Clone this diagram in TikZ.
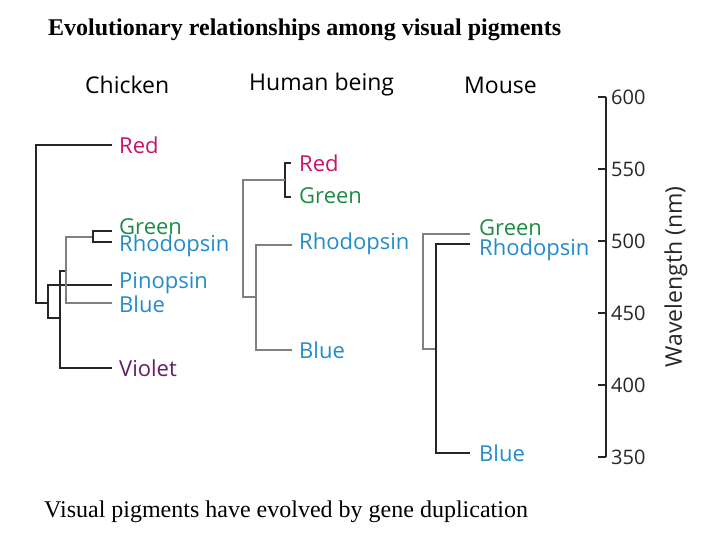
\documentclass[tikz,border=0pt]{standalone}
\usepackage{fontspec}
\setmainfont{Liberation Serif}
\newfontfamily\osans{Open Sans}
\definecolor{cred}{RGB}{200,20,105}
\definecolor{cgreen}{RGB}{30,140,70}
\definecolor{cblue}{RGB}{35,140,200}
\definecolor{cviolet}{RGB}{100,30,100}
\tikzset{lbl/.style={anchor=west,inner sep=0pt,font=\osans\fontsize{22}{22}\selectfont},
 hdr/.style={anchor=west,inner sep=0pt,font=\osans\fontsize{23}{23}\selectfont},
 tr/.style={draw=black!85,line width=1.2pt},
 trg/.style={draw=black!50,line width=1.2pt}}
\begin{document}
\begin{tikzpicture}[x=1pt,y=-1pt]
\useasboundingbox (0,0) rectangle (720,540);
\node[font=\bfseries\fontsize{24}{24}\selectfont,anchor=west,inner sep=0pt] (title) at (48,30) {Evolutionary relationships among visual pigments};
\node[font=\fontsize{24}{24}\selectfont,anchor=west,inner sep=0pt] (cap) at (44,512) {Visual pigments have evolved by gene duplication};
\node[hdr] (h1) at (85,85) {Chicken};
\node[hdr] (h2) at (249,85) {Human being};
\node[hdr] (h3) at (464,85) {Mouse};
% chicken
\node[lbl,text=cred] (cR) at (119,145) {Red};
\node[lbl,text=cgreen] (cG) at (119,227) {Green};
\node[lbl,text=cblue] (cRh) at (119,246) {Rhodopsin};
\node[lbl,text=cblue] (cP) at (119,283) {Pinopsin};
\node[lbl,text=cblue] (cB) at (119,304) {Blue};
\node[lbl,text=cviolet] (cV) at (119,368) {Violet};
\draw[tr] (112,145) -- (36,145) -- (36,303) -- (48,303);
\draw[tr] (112,285) -- (48,285) -- (48,318) -- (60,318);
\draw[tr] (112,368) -- (60,368) -- (60,271) -- (66,271);
\draw[trg] (112,303) -- (66,303) -- (66,237) -- (93,237);
\draw[tr] (112,231) -- (93,231) -- (93,242) -- (112,242);
% human
\node[lbl,text=cred] (hR) at (299,163) {Red};
\node[lbl,text=cgreen] (hG) at (299,196) {Green};
\node[lbl,text=cblue] (hRh) at (299,244) {Rhodopsin};
\node[lbl,text=cblue] (hB) at (299,350) {Blue};
\draw[tr] (291,163) -- (285,163) -- (285,197) -- (291,197);
\draw[trg] (285,180) -- (243,180) -- (243,297) -- (256,297);
\draw[trg] (292,245) -- (256,245) -- (256,350) -- (292,350);
% mouse
\node[lbl,text=cgreen] (mG) at (479,228) {Green};
\node[lbl,text=cblue] (mRh) at (479,250) {Rhodopsin};
\node[lbl,text=cblue] (mB) at (479,453) {Blue};
\draw[trg] (470,234) -- (423,234) -- (423,349) -- (436,349);
\draw[tr] (470,244) -- (436,244) -- (436,453) -- (470,453);
% axis
\draw[tr] (606,97) -- (606,457);
\foreach \v/\y in {600/97,550/169,500/241,450/313,400/385,350/457}{
  \draw[tr] (598,\y) -- (606,\y);
  \node[lbl,font=\osans\fontsize{20}{20}\selectfont,text=black!85] (t\v) at (611,\y) {\v};
}
\node[rotate=90,inner sep=0pt,font=\osans\fontsize{23}{23}\selectfont,text=black!85] (ax) at (676,277) {Wavelength (nm)};
\end{tikzpicture}
\end{document}
